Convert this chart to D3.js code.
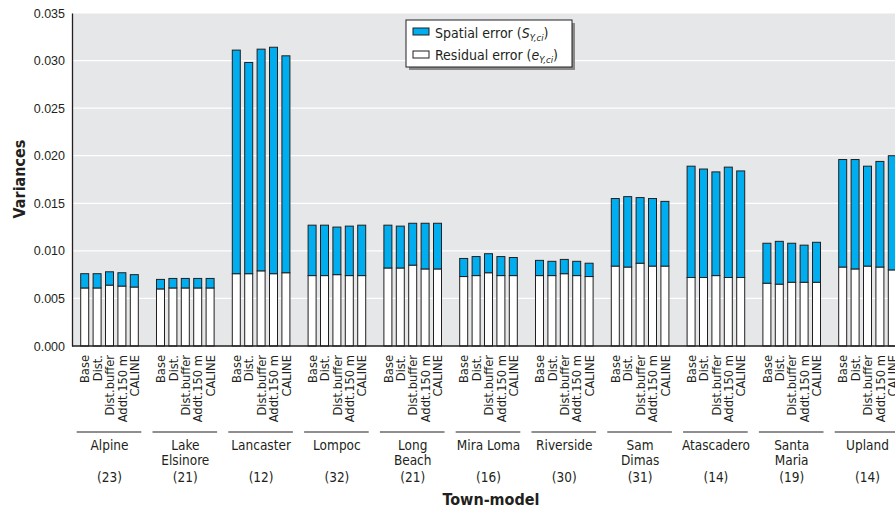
<!DOCTYPE html>
<html>
<head>
<meta charset="utf-8">
<script src="https://cdn.jsdelivr.net/npm/d3@7"></script>
<style>
    body { margin: 0; background: #fff; }
    svg { display: block; font-family: "Liberation Sans Narrow", "Arial Narrow", "DejaVu Sans Condensed", sans-serif; }
    .tick text { font-size: 12.5px; fill: #231f20; }
    .model-label { font-size: 12.8px; fill: #231f20; }
    .town-label { font-size: 13.5px; fill: #231f20; }
    .axis-title { font-size: 16px; font-weight: bold; fill: #231f20; }
    .legend text { font-size: 14px; fill: #231f20; }
</style>
</head>
<body>
<div id="chart"></div>
<script>
// Towns along the x axis, with the site count shown under each name
const towns = ["Alpine", "Lake Elsinore", "Lancaster", "Lompoc", "Long Beach", "Mira Loma",
    "Riverside", "Sam Dimas", "Atascadero", "Santa Maria", "Upland"];
const townLines = [["Alpine"], ["Lake", "Elsinore"], ["Lancaster"], ["Lompoc"], ["Long", "Beach"],
    ["Mira Loma"], ["Riverside"], ["Sam", "Dimas"], ["Atascadero"], ["Santa", "Maria"], ["Upland"]];
const townCounts = [23, 21, 12, 32, 21, 16, 30, 31, 14, 19, 14];

// Five models per town
const models = ["Base", "Dist.", "Dist.buffer", "Addt.150 m", "CALINE"];

// Residual error (white, bottom) per town, one value per model
const residual = [
    [0.0061, 0.0061, 0.0064, 0.0063, 0.0062],
    [0.0060, 0.0061, 0.0061, 0.0061, 0.0061],
    [0.0076, 0.0076, 0.0079, 0.0076, 0.0077],
    [0.0074, 0.0074, 0.0075, 0.0074, 0.0074],
    [0.0082, 0.0082, 0.0085, 0.0081, 0.0081],
    [0.0073, 0.0074, 0.0077, 0.0074, 0.0074],
    [0.0074, 0.0074, 0.0076, 0.0074, 0.0073],
    [0.0084, 0.0083, 0.0087, 0.0084, 0.0084],
    [0.0072, 0.0072, 0.0074, 0.0072, 0.0072],
    [0.0066, 0.0065, 0.0067, 0.0067, 0.0067],
    [0.0083, 0.0081, 0.0084, 0.0083, 0.0080]
];

// Spatial error (blue, stacked on top) per town, one value per model
const spatial = [
    [0.0015, 0.0015, 0.0014, 0.0014, 0.0013],
    [0.0010, 0.0010, 0.0010, 0.0010, 0.0010],
    [0.0235, 0.0222, 0.0233, 0.0238, 0.0228],
    [0.0053, 0.0053, 0.0050, 0.0052, 0.0053],
    [0.0045, 0.0044, 0.0044, 0.0048, 0.0048],
    [0.0019, 0.0020, 0.0020, 0.0020, 0.0019],
    [0.0016, 0.0015, 0.0015, 0.0015, 0.0014],
    [0.0071, 0.0074, 0.0069, 0.0071, 0.0068],
    [0.0117, 0.0114, 0.0109, 0.0116, 0.0112],
    [0.0042, 0.0045, 0.0041, 0.0039, 0.0042],
    [0.0113, 0.0115, 0.0105, 0.0111, 0.0120]
];

const yTicks = [0, 0.005, 0.010, 0.015, 0.020, 0.025, 0.030, 0.035];

const width = 895, height = 510;
const plot = { left: 72, top: 13, bottom: 346 };
const ink = "#231f20";
const blue = "#00aeef";

const svg = d3.select("#chart").append("svg")
    .attr("width", width)
    .attr("height", height);

const y = d3.scaleLinear().domain([0, 0.035]).range([plot.bottom, plot.top]);

const x = d3.scaleBand()
    .domain(towns)
    .range([71.6, 905.4])
    .paddingInner(0.24)
    .paddingOuter(0.12);

const xm = d3.scaleBand()
    .domain(models)
    .range([0, x.bandwidth()])
    .paddingInner(0.355);

// Grey plot background
svg.append("rect")
    .attr("x", plot.left).attr("y", plot.top)
    .attr("width", width - plot.left).attr("height", plot.bottom - plot.top)
    .attr("fill", "#e6e7e8");

// White gridlines
svg.append("g")
    .selectAll("line")
    .data(yTicks.slice(1))
    .join("line")
    .attr("x1", plot.left).attr("x2", width)
    .attr("y1", d => y(d)).attr("y2", d => y(d))
    .attr("stroke", "#fff")
    .attr("stroke-width", 1.2);

// Stacked bars
const rows = [];
towns.forEach((t, i) => {
    models.forEach((m, j) => {
        rows.push({ town: t, model: m, res: residual[i][j], sp: spatial[i][j] });
    });
});

const bars = svg.append("g");
bars.selectAll(".res")
    .data(rows)
    .join("rect")
    .attr("class", "res")
    .attr("x", d => x(d.town) + xm(d.model))
    .attr("y", d => y(d.res))
    .attr("width", xm.bandwidth())
    .attr("height", d => y(0) - y(d.res))
    .attr("fill", "#fff")
    .attr("stroke", ink)
    .attr("stroke-width", 1);

bars.selectAll(".sp")
    .data(rows)
    .join("rect")
    .attr("class", "sp")
    .attr("x", d => x(d.town) + xm(d.model))
    .attr("y", d => y(d.res + d.sp))
    .attr("width", xm.bandwidth())
    .attr("height", d => y(d.res) - y(d.res + d.sp))
    .attr("fill", blue)
    .attr("stroke", ink)
    .attr("stroke-width", 1);

// Y axis
svg.append("g")
    .attr("transform", `translate(${plot.left},0)`)
    .call(d3.axisLeft(y).tickValues(yTicks).tickFormat(d3.format(".3f")).tickSize(0).tickPadding(7))
    .call(g => g.select(".domain").attr("stroke", ink).attr("stroke-width", 1.3));

// X axis baseline
svg.append("line")
    .attr("x1", plot.left).attr("x2", width)
    .attr("y1", plot.bottom).attr("y2", plot.bottom)
    .attr("stroke", ink)
    .attr("stroke-width", 1.3);

// Rotated model labels under each bar
svg.append("g")
    .selectAll("text")
    .data(rows)
    .join("text")
    .attr("class", "model-label")
    .attr("transform", d => `translate(${x(d.town) + xm(d.model) + xm.bandwidth() / 2},355) rotate(-90)`)
    .attr("text-anchor", "end")
    .attr("dy", "0.36em")
    .text(d => d.model);

// Town separators, names and counts
const townG = svg.append("g")
    .selectAll("g")
    .data(towns)
    .join("g");

townG.append("line")
    .attr("x1", d => x(d) - 4)
    .attr("x2", d => x(d) + x.bandwidth() + 3)
    .attr("y1", 432).attr("y2", 432)
    .attr("stroke", ink)
    .attr("stroke-width", 1.2);

townG.each(function(d, i) {
    const g = d3.select(this);
    const cx = x(d) + x.bandwidth() / 2;
    townLines[i].forEach((ln, k) => {
        g.append("text")
            .attr("class", "town-label")
            .attr("x", cx)
            .attr("y", 450 + k * 14.5)
            .attr("text-anchor", "middle")
            .text(ln);
    });
    g.append("text")
        .attr("class", "town-label")
        .attr("x", cx)
        .attr("y", 482)
        .attr("text-anchor", "middle")
        .text(`(${townCounts[i]})`);
});

// Axis titles
svg.append("text")
    .attr("class", "axis-title")
    .attr("x", 491).attr("y", 505)
    .attr("text-anchor", "middle")
    .text("Town-model");

svg.append("text")
    .attr("class", "axis-title")
    .attr("transform", "translate(25,179) rotate(-90)")
    .attr("text-anchor", "middle")
    .text("Variances");

// Legend box with drop shadow
const legend = svg.append("g").attr("class", "legend");
legend.append("rect")
    .attr("x", 409).attr("y", 23).attr("width", 166).attr("height", 47)
    .attr("fill", "#8a8a8a");
legend.append("rect")
    .attr("x", 406).attr("y", 20).attr("width", 166).attr("height", 47)
    .attr("fill", "#fff").attr("stroke", ink).attr("stroke-width", 1);

legend.append("rect")
    .attr("x", 413).attr("y", 28).attr("width", 16).attr("height", 7)
    .attr("fill", blue).attr("stroke", ink).attr("stroke-width", 1);
legend.append("rect")
    .attr("x", 413).attr("y", 51).attr("width", 16).attr("height", 7)
    .attr("fill", "#fff").attr("stroke", ink).attr("stroke-width", 1);

const t1 = legend.append("text").attr("x", 435).attr("y", 38);
t1.append("tspan").text("Spatial error (");
t1.append("tspan").attr("font-style", "italic").text("S");
t1.append("tspan").attr("font-style", "italic").attr("font-size", "9.5px").attr("dy", 3).text("Y,ci");
t1.append("tspan").attr("dy", -3).text(")");

const t2 = legend.append("text").attr("x", 435).attr("y", 60);
t2.append("tspan").text("Residual error (");
t2.append("tspan").attr("font-style", "italic").text("e");
t2.append("tspan").attr("font-style", "italic").attr("font-size", "9.5px").attr("dy", 3).text("Y,ci");
t2.append("tspan").attr("dy", -3).text(")");
</script>
</body>
</html>
